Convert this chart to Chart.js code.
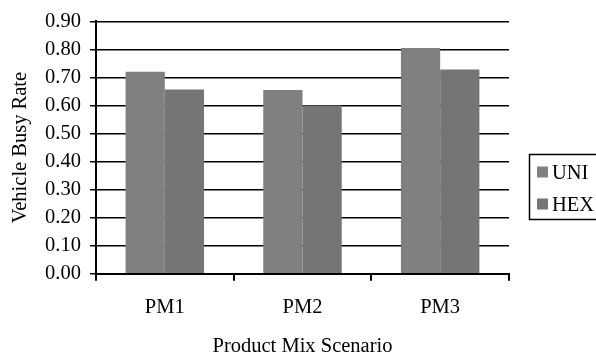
<!DOCTYPE html>
<html>
<head>
    <title>Vehicle Busy Rate</title>
    <script src="https://cdn.jsdelivr.net/npm/chart.js"></script>
    <style>
        html, body { margin: 0; padding: 0; background: #fff; }
        #wrap { width: 596px; height: 352px; }
    </style>
</head>
<body>
    <div id="wrap"><canvas id="busyChart"></canvas></div>
    <script type="text/javascript">
        var scenarios = ['PM1', 'PM2', 'PM3'];
        var uniRates = [0.72, 0.655, 0.805];
        var hexRates = [0.657, 0.60, 0.728];
        var seriesNames = ['UNI', 'HEX'];
        var yTicks = [0, 0.1, 0.2, 0.3, 0.4, 0.5, 0.6, 0.7, 0.8, 0.9];

        var serif = 'Liberation Serif';
        var fsize = 20.5;

        // boxed legend on the right, like the spreadsheet original
        var boxLegend = {
            id: 'boxLegend',
            afterDraw: function(chart) {
                var c = chart.ctx;
                var ds = chart.data.datasets;
                c.save();
                c.strokeStyle = '#000';
                c.lineWidth = 1.5;
                c.strokeRect(529.5, 154.5, 90, 65);
                c.font = fsize + 'px "' + serif + '"';
                c.textBaseline = 'middle';
                for (var i = 0; i < ds.length; i++) {
                    var y = 172.5 + i * 32;
                    c.fillStyle = ds[i].backgroundColor;
                    c.fillRect(537, y - 6, 11, 11);
                    c.fillStyle = '#000';
                    c.fillText(ds[i].label, 552, y + 1);
                }
                c.restore();
            }
        };

        var ctx = document.getElementById('busyChart').getContext('2d');
        var chart = new Chart(ctx, {
            type: 'bar',
            data: {
                labels: scenarios,
                datasets: [{
                    label: seriesNames[0],
                    data: uniRates,
                    backgroundColor: '#808080',
                    borderWidth: 0
                }, {
                    label: seriesNames[1],
                    data: hexRates,
                    backgroundColor: '#757575',
                    borderWidth: 0
                }]
            },
            options: {
                responsive: true,
                maintainAspectRatio: false,
                animation: false,
                layout: { padding: { left: 8.5, right: 87, top: 13, bottom: -7 } },
                plugins: {
                    legend: { display: false },
                    tooltip: { enabled: false }
                },
                datasets: {
                    bar: { categoryPercentage: 0.57, barPercentage: 1.0 }
                },
                scales: {
                    x: {
                        grid: {
                            offset: true,
                            color: function(c) { return c.index === scenarios.length ? '#000' : 'rgba(0,0,0,0)'; },
                            lineWidth: 2,
                            tickColor: '#000',
                            tickLength: 7
                        },
                        border: { color: '#000', width: 2 },
                        ticks: {
                            color: '#000',
                            padding: 15,
                            font: { family: serif, size: fsize }
                        },
                        title: {
                            display: true,
                            text: 'Product Mix Scenario',
                            color: '#000',
                            padding: { top: -1, bottom: 0 },
                            font: { family: serif, size: fsize }
                        }
                    },
                    y: {
                        min: 0,
                        max: 0.9,
                        afterBuildTicks: function(axis) {
                            axis.ticks = yTicks.map(function(v) { return { value: v }; });
                        },
                        grid: {
                            color: '#000',
                            lineWidth: 1.5,
                            tickColor: '#000',
                            tickLength: 6
                        },
                        border: { color: '#000', width: 2 },
                        ticks: {
                            color: '#000',
                            padding: 9,
                            autoSkip: false,
                            font: { family: serif, size: fsize },
                            callback: function(v) { return Number(v).toFixed(2); }
                        },
                        title: {
                            display: true,
                            text: 'Vehicle Busy Rate',
                            color: '#000',
                            padding: { top: 0, bottom: 3 },
                            font: { family: serif, size: fsize }
                        }
                    }
                }
            },
            plugins: [boxLegend]
        });
    </script>
</body>
</html>
